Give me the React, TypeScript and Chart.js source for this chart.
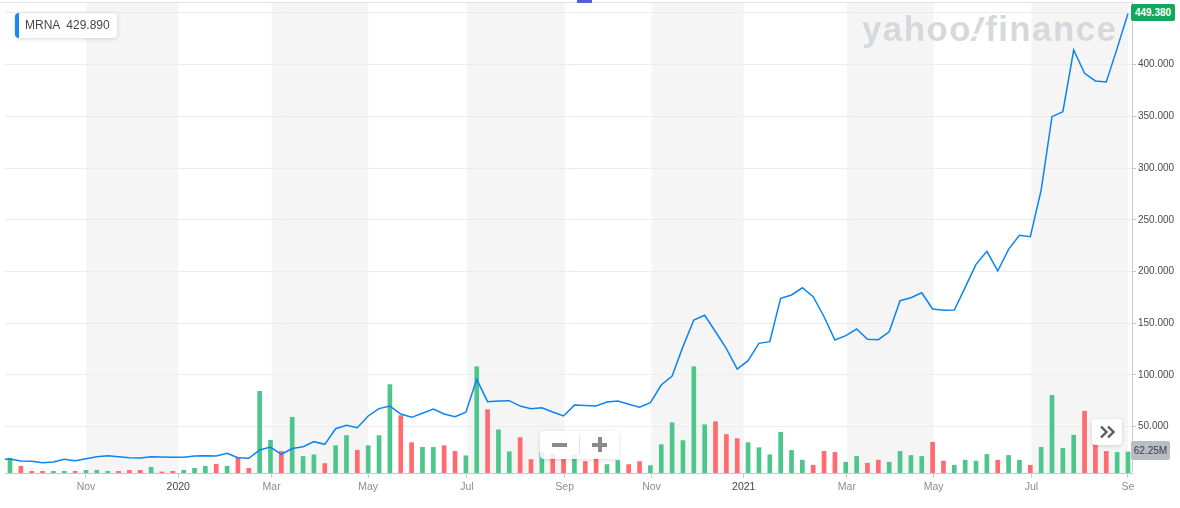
import React, { useEffect, useRef } from "react";
import { Chart, registerables } from "chart.js";

Chart.register(...registerables);

// ---- data (weekly bars, index 0 = first visible week) ----
const tickLabels = ["Nov", "2020", "Mar", "May", "Jul", "Sep", "Nov", "2021", "Mar", "May", "Jul", "Se"];
const tickWeeks = [7, 15.5, 24.1, 33, 42.1, 51.1, 59.1, 67.6, 77.1, 85.1, 94.1, 103];
const priceTicks = [50, 100, 150, 200, 250, 300, 350, 400, 450];

const priorClose = 18.6;
const closes = [
  18.8, 16.9, 16.6, 15.3, 15.9, 18.5, 17.2, 19.1, 21.1, 22.0,
  21.1, 20.1, 19.8, 21.1, 20.8, 20.5, 20.6, 21.7, 22.0, 21.7,
  24.3, 20.1, 19.5, 27.5, 30.4, 23.4, 29.0, 30.7, 35.6, 33.0,
  48.1, 51.4, 49.1, 60.4, 67.5, 70.0, 62.3, 59.1, 63.0, 67.1,
  62.3, 59.7, 64.0, 95.8, 74.2, 74.9, 75.2, 70.0, 67.5, 68.4,
  64.3, 60.4, 70.9, 70.5, 70.0, 73.9, 74.9, 71.7, 68.8, 73.2,
  90.3, 99.0, 127.4, 153.1, 157.7, 141.8, 125.4, 105.8, 113.8, 130.6,
  132.2, 174.1, 177.3, 184.3, 175.7, 156.3, 133.8, 138.0, 144.4, 134.5,
  134.1, 141.8, 171.8, 174.7, 179.5, 163.8, 162.5, 162.8, 184.7, 206.9,
  219.5, 200.5, 221.4, 235.0, 233.6, 278.7, 349.6, 354.4, 414.0, 391.5,
  384.1, 383.1, 415.6, 449.38,
];
// volume in millions
const volumes = [
  44, 20, 5, 5, 5, 5, 5, 8, 8, 5,
  5, 8, 8, 17, 3, 5, 8, 14, 20, 26,
  20, 46, 14, 242, 97, 64, 165, 49, 54, 28,
  81, 111, 67, 81, 111, 262, 170, 90, 76, 76,
  81, 64, 51, 315, 188, 128, 63, 105, 40, 61,
  57, 41, 54, 34, 44, 25, 37, 25, 34, 22,
  84, 149, 96, 315, 143, 152, 114, 102, 90, 75,
  54, 121, 67, 38, 23, 64, 61, 32, 49, 29,
  38, 32, 64, 52, 49, 91, 35, 23, 38, 35,
  55, 38, 52, 38, 23, 76, 230, 73, 112, 183,
  89, 64, 61, 62.25,
];

const symbol = "MRNA";
const legendValue = "429.890";
const lastPriceLabel = "449.380";
const lastVolumeLabel = "62.25M";

const GREEN = "#4dc68b";
const RED = "#ff6b6f";
const LINE = "#0c83f2";
const FONT = "'Liberation Sans', Arial, Helvetica, sans-serif";

const bandPlugin = {
  id: "monthBands",
  beforeDraw(chart: any) {
    const { ctx, chartArea } = chart;
    const x = chart.scales.x;
    ctx.save();
    ctx.fillStyle = "#f5f5f5";
    for (let i = 0; i + 1 < tickWeeks.length; i += 2) {
      const x0 = x.getPixelForValue(tickWeeks[i]);
      const x1 = x.getPixelForValue(tickWeeks[i + 1]);
      ctx.fillRect(x0, chartArea.top, x1 - x0, chartArea.bottom - chartArea.top);
    }
    ctx.restore();
  },
};

export default function App() {
  const ref = useRef<HTMLCanvasElement | null>(null);

  useEffect(() => {
    if (!ref.current) return;
    const colors = volumes.map((_, i) =>
      closes[i] >= (i === 0 ? priorClose : closes[i - 1]) ? GREEN : RED
    );
    const chart = new Chart(ref.current, {
      type: "bar",
      data: {
        datasets: [
          {
            type: "line",
            label: symbol,
            data: [{ x: -1, y: priorClose }, ...closes.map((c, i) => ({ x: i, y: c }))],
            borderColor: LINE,
            borderWidth: 1.5,
            pointRadius: 0,
            tension: 0,
            xAxisID: "x",
            yAxisID: "y",
            order: 1,
          } as any,
          {
            type: "bar",
            label: "Volume",
            data: volumes.map((v, i) => ({ x: i, y: v })),
            backgroundColor: colors,
            barThickness: 4,
            xAxisID: "x",
            yAxisID: "yv",
            order: 2,
          } as any,
        ],
      },
      options: {
        animation: false,
        responsive: false,
        events: [],
        layout: { padding: { left: 5, top: 2, right: 0, bottom: 0 } },
        plugins: { legend: { display: false }, tooltip: { enabled: false } },
        scales: {
          x: {
            type: "linear",
            min: -0.46,
            max: 103.37,
            offset: false,
            afterBuildTicks: (s: any) => {
              s.ticks = tickWeeks.map((v) => ({ value: v }));
            },
            afterFit: (s: any) => {
              s.height = 35;
              s.paddingLeft = 0;
              s.paddingRight = 0;
            },
            grid: {
              drawOnChartArea: false,
              drawTicks: true,
              tickLength: 5,
              tickColor: "#cacaca",
              offset: false,
            },
            border: { display: true, color: "#cacaca" },
            ticks: {
              autoSkip: false,
              maxRotation: 0,
              padding: 3,
              font: { family: FONT, size: 10.5 },
              color: (c: any) => (/^\d{4}$/.test(c.tick?.label ?? "") ? "#454545" : "#8c8c8c"),
              callback: (_v: any, i: number) => tickLabels[i],
            },
          } as any,
          y: {
            type: "linear",
            position: "right",
            min: 5.31,
            max: 460.4,
            afterBuildTicks: (s: any) => {
              s.ticks = priceTicks.map((v) => ({ value: v }));
            },
            afterFit: (s: any) => {
              s.width = 48;
              s.paddingTop = 0;
              s.paddingBottom = 0;
            },
            grid: { color: "#ececec", tickColor: "#cacaca", tickLength: 4, drawTicks: true },
            border: { display: true, color: "#cacaca" },
            ticks: {
              padding: 2,
              font: { family: FONT, size: 10 },
              color: "#4a4a4a",
              callback: (v: any) => Number(v).toFixed(3),
            },
          } as any,
          yv: {
            type: "linear",
            display: false,
            min: 0,
            max: 1396,
          } as any,
        },
      },
      plugins: [bandPlugin],
    });
    return () => chart.destroy();
  }, []);

  return (
    <div
      style={{
        position: "absolute",
        left: 0,
        top: 0,
        width: 1180,
        height: 508,
        overflow: "hidden",
        background: "#ffffff",
        fontFamily: FONT,
      }}
    >
      <canvas ref={ref} width={1180} height={508} style={{ position: "absolute", left: 0, top: 0, width: 1180, height: 508 }} />
      {/* top frame line and tab */}
      <div style={{ position: "absolute", left: 0, top: 2, width: 1132, height: 1, background: "#e2e2ea" }} />
      <div style={{ position: "absolute", left: 577, top: 0, width: 15, height: 3, background: "#5161d5" }} />
      {/* watermark */}
      <div
        style={{
          position: "absolute",
          left: 862,
          top: 11,
          fontSize: 35,
          lineHeight: "35px",
          fontWeight: 700,
          letterSpacing: 1.4,
          color: "#d6d8dc",
          whiteSpace: "nowrap",
        }}
      >
        yahoo<span style={{ display: "inline-block", transform: "skewX(-22deg)" }}>!</span>finance
      </div>
      {/* legend */}
      <div
        style={{
          position: "absolute",
          left: 15,
          top: 13,
          width: 102,
          height: 25,
          background: "#fff",
          borderRadius: 4,
          boxShadow: "0 1px 4px rgba(0,0,0,0.16)",
          overflow: "hidden",
        }}
      >
        <div style={{ position: "absolute", left: 0, top: 0, width: 4, height: 25, background: "#1a86f4" }} />
        <div
          style={{
            position: "absolute",
            left: 10,
            top: 0,
            lineHeight: "25px",
            fontSize: 12,
            color: "#464646",
            whiteSpace: "nowrap",
          }}
        >
          {symbol}
          <span style={{ marginLeft: 6 }}>{legendValue}</span>
        </div>
      </div>
      {/* last price badge */}
      <div
        style={{
          position: "absolute",
          left: 1131,
          top: 4,
          width: 44,
          height: 17,
          background: "#10a95b",
          borderRadius: 2,
          color: "#fff",
          fontSize: 10,
          fontWeight: 700,
          lineHeight: "17px",
          textAlign: "center",
        }}
      >
        {lastPriceLabel}
      </div>
      {/* last volume badge */}
      <div
        style={{
          position: "absolute",
          left: 1131,
          top: 441,
          width: 39,
          height: 19,
          background: "#b9bdc6",
          borderRadius: 2,
          color: "#3d4149",
          fontSize: 10,
          lineHeight: "19px",
          textAlign: "center",
        }}
      >
        {lastVolumeLabel}
      </div>
      {/* scroll-to-end button */}
      <div
        style={{
          position: "absolute",
          left: 1092,
          top: 419,
          width: 30,
          height: 26,
          background: "#fff",
          borderRadius: 4,
          boxShadow: "0 1px 4px rgba(0,0,0,0.16)",
        }}
      >
        <svg width={30} height={26} style={{ position: "absolute", left: 0, top: 0 }}>
          <polyline points="9,7.5 14.5,13 9,18.5" fill="none" stroke="#5a5a5a" strokeWidth={2.4} />
          <polyline points="16,7.5 21.5,13 16,18.5" fill="none" stroke="#5a5a5a" strokeWidth={2.4} />
        </svg>
      </div>
      {/* zoom control */}
      <div
        style={{
          position: "absolute",
          left: 540,
          top: 431,
          width: 79,
          height: 28,
          background: "rgba(255,255,255,0.85)",
          borderRadius: 4,
          boxShadow: "0 1px 4px rgba(0,0,0,0.14)",
        }}
      >
        <div style={{ position: "absolute", left: 39, top: 4, width: 1, height: 20, background: "#e2e2e2" }} />
        <div style={{ position: "absolute", left: 12, top: 11.5, width: 15, height: 4, background: "#8a8a8a" }} />
        <div style={{ position: "absolute", left: 52, top: 11.5, width: 15, height: 4, background: "#8a8a8a" }} />
        <div style={{ position: "absolute", left: 57.5, top: 6, width: 4, height: 15, background: "#8a8a8a" }} />
      </div>
    </div>
  );
}
